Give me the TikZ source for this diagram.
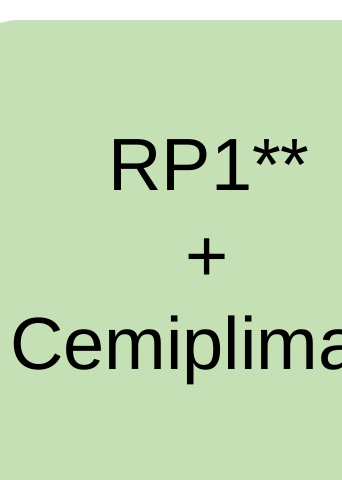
\documentclass[tikz,border=0pt]{standalone}
\usepackage{fontspec}
\setmainfont{Liberation Sans}
\definecolor{boxgreen}{HTML}{C5E0B4}
\begin{document}
\begin{tikzpicture}[x=1pt,y=-1pt,
  lbl/.style={anchor=base,inner sep=0pt,font=\fontsize{74}{89}\selectfont,text=black}]
\useasboundingbox (0,0) rectangle (342,480);
\begin{scope}
\clip (0,0) rectangle (342,480);
\fill[boxgreen] (-48,490) -- (-48,88) arc[start angle=180,end angle=270,radius=68] -- (352,20) -- (352,490) -- cycle;
\end{scope}
\node[lbl] (t1) at (209,190) {RP1**};
\node[lbl] (t2) at (207.5,281) {+};
\node[lbl] (t3) at (205.5,369) {Cemiplimab};
\end{tikzpicture}
\end{document}
